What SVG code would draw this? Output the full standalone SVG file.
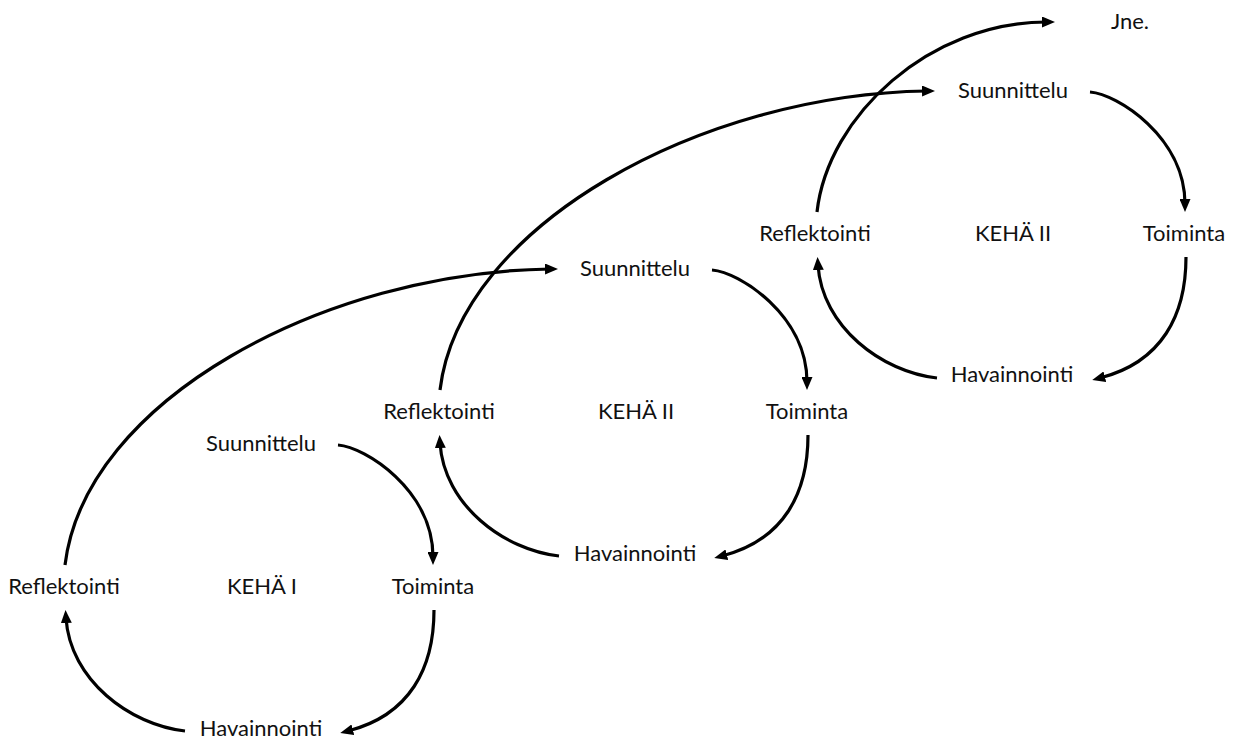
<svg xmlns="http://www.w3.org/2000/svg" width="1243" height="740" viewBox="0 0 1243 740">
<defs>
<marker id="ah" markerUnits="userSpaceOnUse" markerWidth="13" markerHeight="11" refX="5" refY="5.5" orient="auto">
<path d="M0,0 L13,5.5 L0,11 z" fill="#000"/>
</marker>
<style>
text{font-family:Lato,"Open Sans","Liberation Sans",sans-serif;font-size:22px;fill:#111;text-anchor:middle}
.c{fill:none;stroke:#000;stroke-width:3.2;marker-end:url(#ah)}
</style>
</defs>
<rect width="1243" height="740" fill="#fff"/>
<g id="connectors">
<path class="c" d="M338,445 C365,447 433,490 433,557"/>
<path class="c" d="M434,610 C434,668 410,715 348,731"/>
<path class="c" d="M185,731 C130,725 70,680 66,618"/>
<path class="c" d="M65,565 C85,400 325,272 550,269"/>
<path class="c" d="M712,270 C739,272 807,315 807,382"/>
<path class="c" d="M808,435 C808,493 784,540 722,556"/>
<path class="c" d="M559,556 C504,550 444,505 440,443"/>
<path class="c" d="M440,390 C460,225 702,94 927,91"/>
<path class="c" d="M1090,92 C1117,94 1185,137 1185,204"/>
<path class="c" d="M1186,257 C1186,315 1162,362 1100,378"/>
<path class="c" d="M937,378 C882,372 822,327 818,265"/>
<path class="c" d="M817,212 C828,115 930,22 1047,22"/>
</g>
<g id="k1-suunnittelu"><text x="261" y="451">Suunnittelu</text></g>
<g id="k1-toiminta"><text x="433" y="594">Toiminta</text></g>
<g id="k1-reflektointi"><text x="64" y="594">Reflektointi</text></g>
<g id="k1-label"><text x="262" y="594">KEHÄ I</text></g>
<g id="k1-havainnointi"><text x="261" y="736">Havainnointi</text></g>
<g id="k2-suunnittelu"><text x="635" y="276">Suunnittelu</text></g>
<g id="k2-toiminta"><text x="807" y="419">Toiminta</text></g>
<g id="k2-reflektointi"><text x="439" y="419">Reflektointi</text></g>
<g id="k2-label"><text x="636" y="419">KEHÄ II</text></g>
<g id="k2-havainnointi"><text x="635" y="561">Havainnointi</text></g>
<g id="k3-suunnittelu"><text x="1013" y="98">Suunnittelu</text></g>
<g id="k3-toiminta"><text x="1184" y="241">Toiminta</text></g>
<g id="k3-reflektointi"><text x="815" y="241">Reflektointi</text></g>
<g id="k3-label"><text x="1013" y="241">KEHÄ II</text></g>
<g id="k3-havainnointi"><text x="1012" y="382">Havainnointi</text></g>
<g id="jne"><text x="1130" y="29">Jne.</text></g>
</svg>
